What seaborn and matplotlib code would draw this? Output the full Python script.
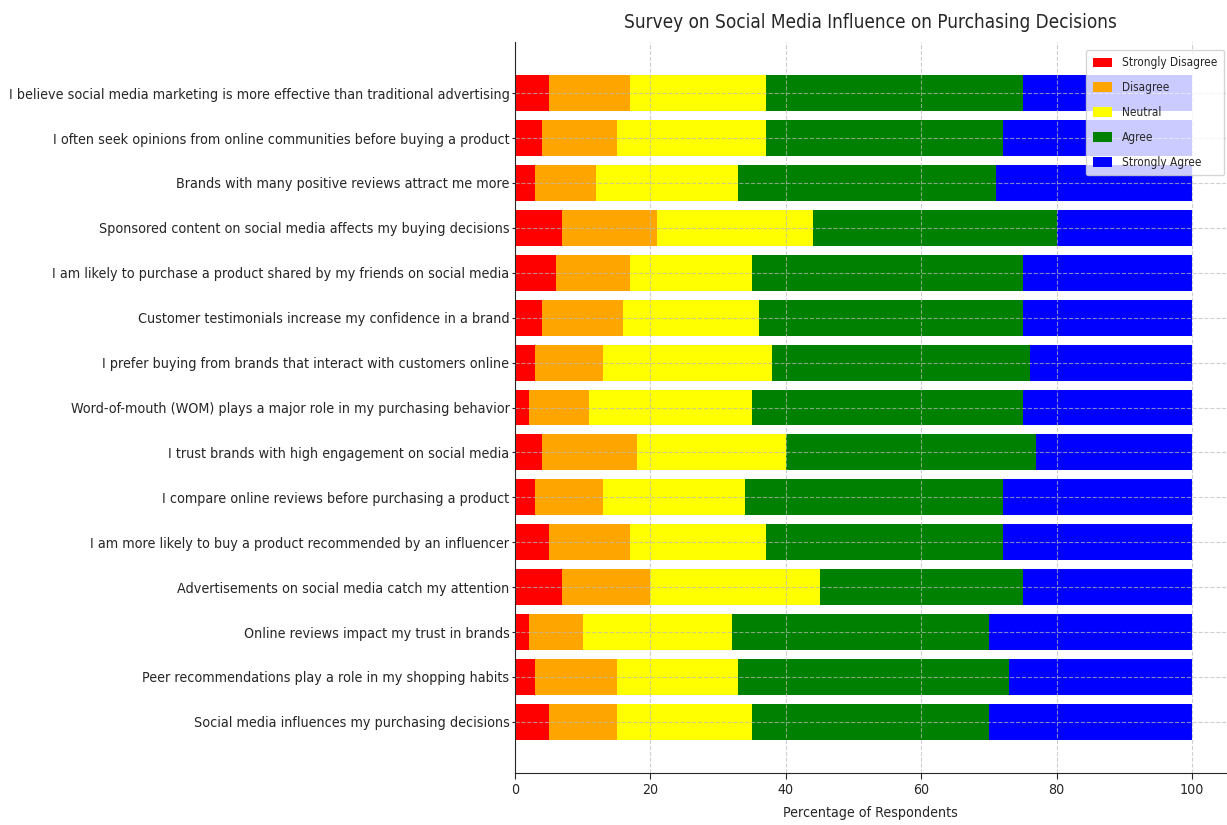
import matplotlib
matplotlib.use("Agg")
import matplotlib.pyplot as plt
import numpy as np
import pandas as pd
import seaborn as sns

# Survey statements, listed top to bottom
statements = [
    "I believe social media marketing is more effective than traditional advertising",
    "I often seek opinions from online communities before buying a product",
    "Brands with many positive reviews attract me more",
    "Sponsored content on social media affects my buying decisions",
    "I am likely to purchase a product shared by my friends on social media",
    "Customer testimonials increase my confidence in a brand",
    "I prefer buying from brands that interact with customers online",
    "Word-of-mouth (WOM) plays a major role in my purchasing behavior",
    "I trust brands with high engagement on social media",
    "I compare online reviews before purchasing a product",
    "I am more likely to buy a product recommended by an influencer",
    "Advertisements on social media catch my attention",
    "Online reviews impact my trust in brands",
    "Peer recommendations play a role in my shopping habits",
    "Social media influences my purchasing decisions",
]

responses = ["Strongly Disagree", "Disagree", "Neutral", "Agree", "Strongly Agree"]
colors = ["red", "orange", "yellow", "green", "blue"]

# Percentage of respondents per answer, same order as statements
strongly_disagree = [5, 4, 3, 7, 6, 4, 3, 2, 4, 3, 5, 7, 2, 3, 5]
disagree          = [12, 11, 9, 14, 11, 12, 10, 9, 14, 10, 12, 13, 8, 12, 10]
neutral           = [20, 22, 21, 23, 18, 20, 25, 24, 22, 21, 20, 25, 22, 18, 20]
agree             = [38, 35, 38, 36, 40, 39, 38, 40, 37, 38, 35, 30, 38, 40, 35]
strongly_agree    = [25, 28, 29, 20, 25, 25, 24, 25, 23, 28, 28, 25, 30, 27, 30]

df = pd.DataFrame({
    "Statement": statements,
    "Strongly Disagree": strongly_disagree,
    "Disagree": disagree,
    "Neutral": neutral,
    "Agree": agree,
    "Strongly Agree": strongly_agree,
})

# Running totals so each stacked segment ends at its cumulative value
cum = df[responses].cumsum(axis=1)

sns.set_style("ticks")
plt.rcParams["font.family"] = ["DejaVu Sans"]
plt.rcParams["font.stretch"] = "condensed"

fig = plt.figure(figsize=(12.27, 8.25), dpi=100)
ax = fig.add_axes([515 / 1227, 1 - 773 / 825, 711 / 1227, (773 - 42) / 825])

# Draw from the outermost segment inward so the stacks show every response
for resp, col in reversed(list(zip(responses, colors))):
    sns.barplot(
        x=cum[resp], y=df["Statement"], orient="h", color=col,
        saturation=1, width=0.8, errorbar=None, label=resp,
        linewidth=0, ax=ax,
    )

n = len(statements)
ax.set_ylim(n - 1 + 1.14, -1.14)
ax.set_xlim(0, 105)
ax.set_xticks([0, 20, 40, 60, 80, 100])

ax.set_title("Survey on Social Media Influence on Purchasing Decisions",
             fontsize=13.6, pad=10)
ax.set_xlabel("Percentage of Respondents", fontsize=10.2, labelpad=7)
ax.set_ylabel("")
ax.tick_params(axis="y", labelsize=10.25, length=2, pad=2)
ax.tick_params(axis="x", labelsize=10.2, length=4, pad=3)

ax.grid(True, linestyle="--", linewidth=0.8, color="#bbbbbb", alpha=0.7)
ax.set_axisbelow(False)
sns.despine(ax=ax)
for side in ("left", "bottom"):
    ax.spines[side].set_zorder(3)

handles, labels = ax.get_legend_handles_labels()
ax.legend(handles[::-1], labels[::-1], loc="upper right",
          bbox_to_anchor=(1224 / 1227, 1 - 50 / 825),
          bbox_transform=fig.transFigure, borderaxespad=0,
          fontsize=8.5, framealpha=0.8, labelspacing=1.0,
          handleheight=0.9, handlelength=1.65, handletextpad=0.85,
          borderpad=0.55)

fig.savefig("out.png", dpi=100)
